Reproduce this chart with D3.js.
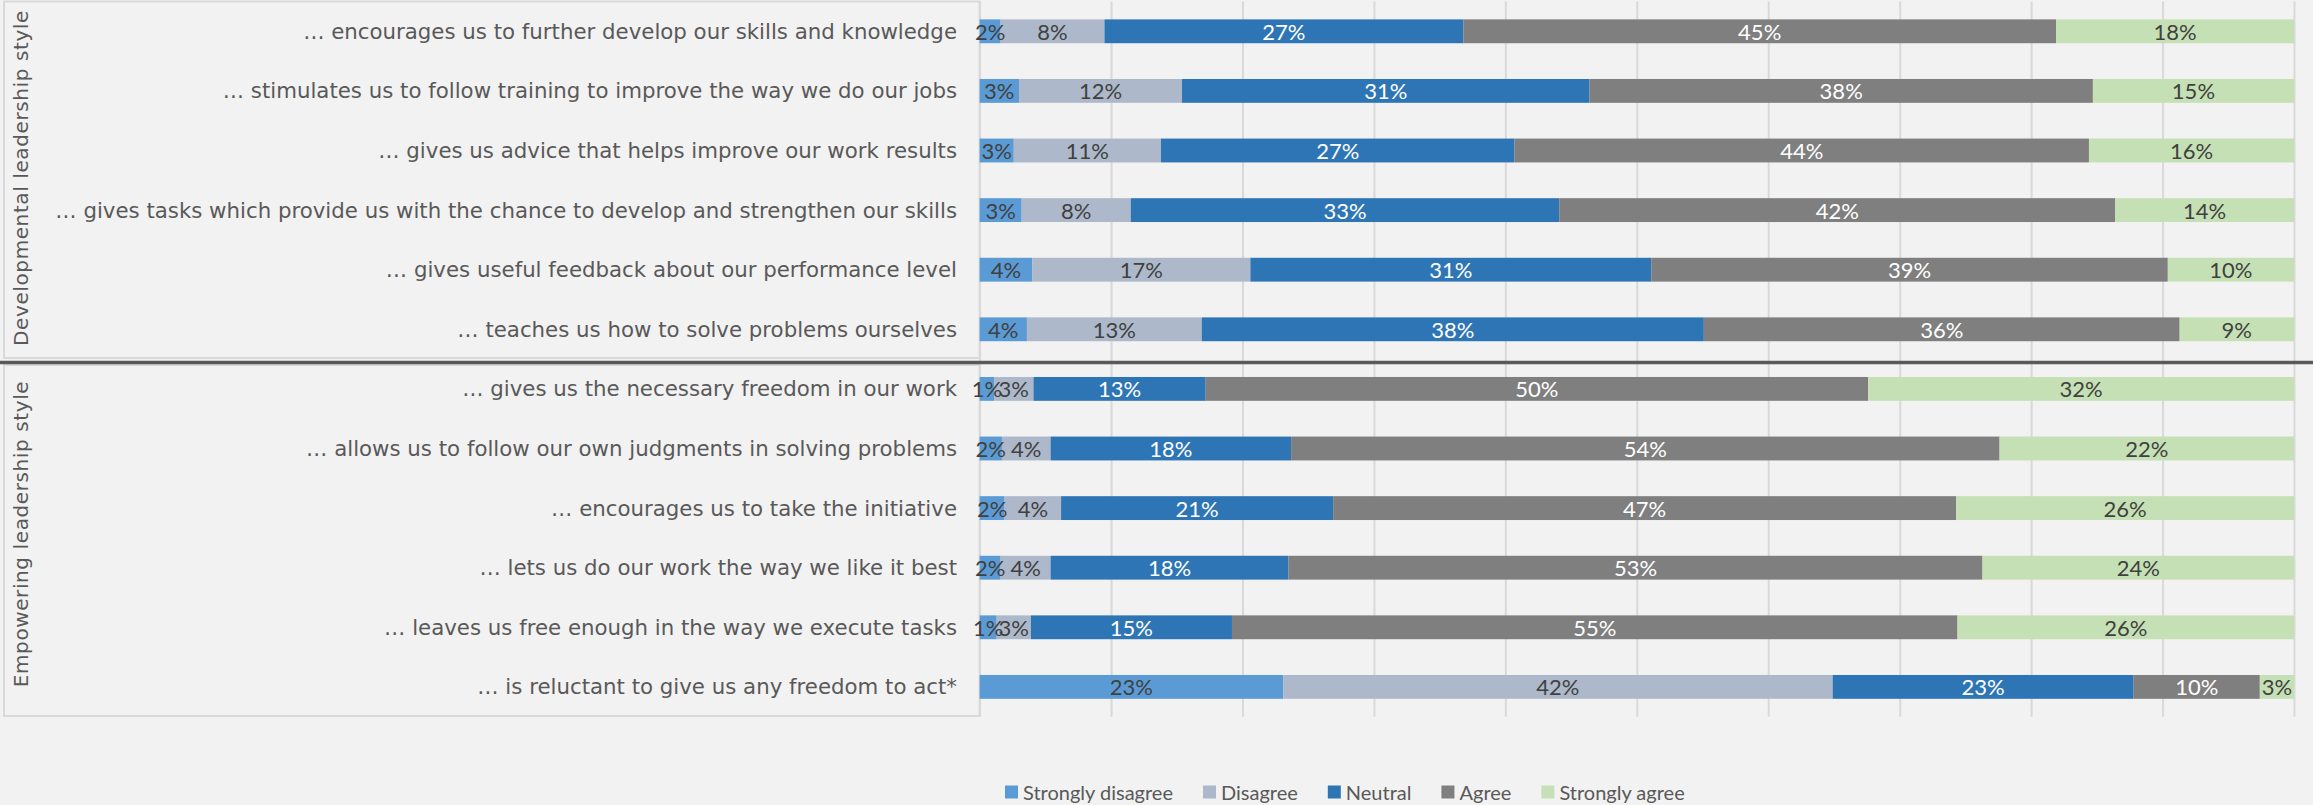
<!DOCTYPE html>
<html>
<head>
<meta charset="utf-8">
<script src="https://cdn.jsdelivr.net/npm/d3@7"></script>
<style>
  html, body { margin: 0; padding: 0; background: #f2f2f2; }
  svg { display: block; }
  .narrow { font-family: Lato, 'Open Sans', sans-serif; }
</style>
</head>
<body>
<svg id="chart" width="2313" height="805"></svg>
<script>
// Survey statements (rows, top to bottom)
const categories = [
  "… encourages us to further develop our skills and knowledge",
  "… stimulates us to follow training to improve the way we do our jobs",
  "… gives us advice that helps improve our work results",
  "… gives tasks which provide us with the chance to develop and strengthen our skills",
  "… gives useful feedback about our performance level",
  "… teaches us how to solve problems ourselves",
  "… gives us the necessary freedom in our work",
  "… allows us to follow our own judgments in solving problems",
  "… encourages us to take the initiative",
  "… lets us do our work the way we like it best",
  "… leaves us free enough in the way we execute tasks",
  "… is reluctant to give us any freedom to act*"
];

// Group titles and how many statements belong to each
const groupNames = ["Developmental leadership style", "Empowering leadership style"];
const groupSizes = [6, 6];

// Answer categories (legend order)
const seriesNames = ["Strongly disagree", "Disagree", "Neutral", "Agree", "Strongly agree"];

// Share of respondents per answer (%)
const stronglyDisagree = [1.6, 3.0, 2.6, 3.2, 4.0, 3.6, 1.1, 1.7, 1.9, 1.6, 1.3, 23.1];
const disagree         = [7.9, 12.4, 11.2, 8.3, 16.6, 13.3, 3.0, 3.7, 4.3, 3.8, 2.6, 41.8];
const neutral          = [27.3, 31.0, 26.9, 32.6, 30.5, 38.2, 13.1, 18.3, 20.7, 18.1, 15.3, 22.9];
const agree            = [45.1, 38.3, 43.7, 42.3, 39.3, 36.2, 50.4, 53.9, 47.4, 52.8, 55.2, 9.6];
const stronglyAgree    = [18.1, 15.3, 15.6, 13.6, 9.6, 8.7, 32.4, 22.4, 25.7, 23.7, 25.6, 2.6];

// Gridline positions (%)
const xTicks = [0, 10, 20, 30, 40, 50, 60, 70, 80, 90, 100];

const seriesValues = [stronglyDisagree, disagree, neutral, agree, stronglyAgree];
const colors = ["#5b9bd5", "#adb9ca", "#2e75b6", "#7f7f7f", "#c5e0b4"];
const labelColors = ["#404040", "#404040", "#ffffff", "#ffffff", "#404040"];

const rows = categories.map((c, i) => {
  const r = { category: c };
  seriesNames.forEach((s, k) => { r[s] = seriesValues[k][i]; });
  return r;
});

const svg = d3.select("#chart");
const W = 2313, H = 805;
svg.append("rect").attr("width", W).attr("height", H).attr("fill", "#f2f2f2");

const x = d3.scaleLinear().domain([0, 100]).range([979.6, 2294]);
const y = d3.scaleBand().domain(categories).range([1.5, 716.7])
  .paddingInner(0.6).paddingOuter(0.3);

const labelFont = "'DejaVu Sans', Verdana, sans-serif";

// Label panels on the left, one per group
const panelTops = [1.5, 365];
const panelBottoms = [358, 716];
groupNames.forEach((g, gi) => {
  svg.append("rect")
    .attr("x", 4).attr("y", panelTops[gi])
    .attr("width", x(0) - 4).attr("height", panelBottoms[gi] - panelTops[gi])
    .attr("fill", "#f2f2f2").attr("stroke", "#d9d9d9").attr("stroke-width", 2);
});

// Vertical gridlines
const grid = svg.append("g")
  .attr("transform", `translate(0,${y.range()[0]})`)
  .call(d3.axisBottom(x).tickValues(xTicks)
    .tickSize(y.range()[1] - y.range()[0]).tickFormat(""));
grid.select(".domain").remove();
grid.selectAll(".tick line").attr("stroke", "#d9d9d9").attr("stroke-width", 2);

// Stacked bars
const stack = d3.stack().keys(seriesNames);
const layers = stack(rows);
const layerG = svg.append("g").selectAll("g").data(layers).join("g")
  .attr("fill", (d, i) => colors[i]);
layerG.selectAll("rect").data(d => d).join("rect")
  .attr("x", d => x(d[0]))
  .attr("y", d => y(d.data.category))
  .attr("width", d => x(d[1]) - x(d[0]))
  .attr("height", y.bandwidth());

// Value labels
const labelG = svg.append("g").selectAll("g").data(layers).join("g")
  .attr("fill", (d, i) => labelColors[i]);
labelG.selectAll("text").data(d => d).join("text")
  .attr("class", "narrow")
  .attr("x", d => (x(d[0]) + x(d[1])) / 2)
  .attr("y", d => y(d.data.category) + y.bandwidth() / 2)
  .attr("text-anchor", "middle")
  .attr("dominant-baseline", "central")
  .attr("font-size", 22)
  .text(d => Math.round(d[1] - d[0]) + "%");

// Statement labels
svg.append("g").selectAll("text").data(categories).join("text")
  .attr("x", 957)
  .attr("y", d => y(d) + y.bandwidth() / 2)
  .attr("text-anchor", "end")
  .attr("dominant-baseline", "central")
  .attr("font-family", labelFont)
  .attr("font-size", 21.3)
  .attr("fill", "#595959")
  .text(d => d);

// Group titles (rotated)
const titleCenters = [178, 534];
groupNames.forEach((g, gi) => {
  svg.append("text")
    .attr("transform", `translate(21,${titleCenters[gi]}) rotate(-90)`)
    .attr("text-anchor", "middle")
    .attr("dominant-baseline", "central")
    .attr("font-family", labelFont)
    .attr("font-size", 20)
    .attr("letter-spacing", 0.6)
    .attr("fill", "#595959")
    .text(g);
});

// Separator between the two groups
svg.append("line")
  .attr("x1", 0).attr("x2", W)
  .attr("y1", 362.5).attr("y2", 362.5)
  .attr("stroke", "#595959").attr("stroke-width", 3.5);

// Legend
const legend = svg.append("g").attr("transform", "translate(1005,792)");
let lx = 0;
seriesNames.forEach((s, i) => {
  const item = legend.append("g").attr("transform", `translate(${lx},0)`);
  item.append("rect").attr("x", 0).attr("y", -6.5).attr("width", 13).attr("height", 13)
    .attr("fill", colors[i]);
  const t = item.append("text")
    .attr("class", "narrow")
    .attr("x", 18).attr("y", 0)
    .attr("dominant-baseline", "central")
    .attr("font-size", 20)
    .attr("fill", "#595959")
    .text(s);
  lx += 18 + t.node().getComputedTextLength() + 30;
});
</script>
</body>
</html>
